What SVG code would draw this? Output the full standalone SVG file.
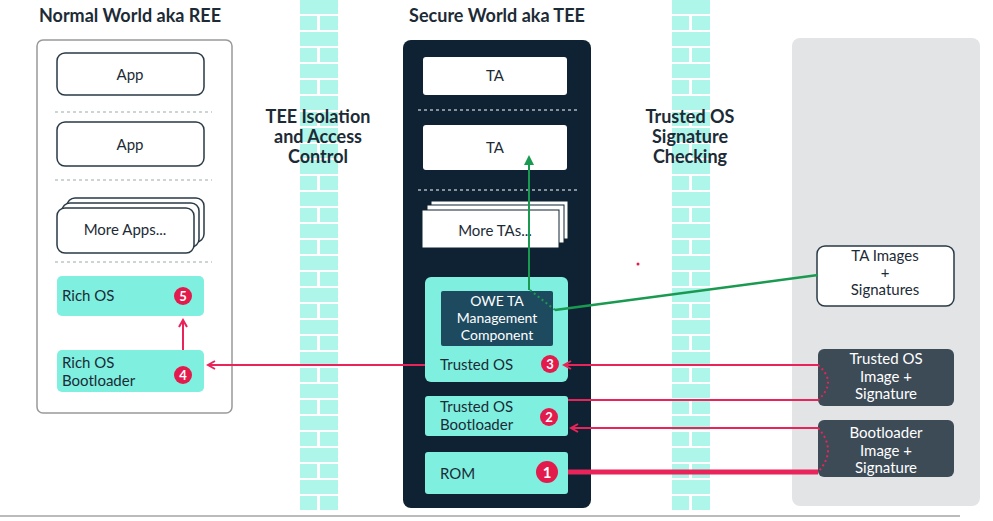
<svg xmlns="http://www.w3.org/2000/svg" width="993" height="521" viewBox="0 0 993 521">
<defs>
<pattern id="brick" x="300" y="0" width="38" height="32" patternUnits="userSpaceOnUse">
<rect x="0" y="0" width="38" height="14" fill="#aef5ea"/>
<rect x="0" y="16" width="17" height="14" fill="#aef5ea"/>
<rect x="20" y="16" width="18" height="14" fill="#aef5ea"/>
</pattern>
<pattern id="brick2" x="672" y="0" width="38" height="32" patternUnits="userSpaceOnUse">
<rect x="0" y="0" width="38" height="14" fill="#aef5ea"/>
<rect x="0" y="16" width="17" height="14" fill="#aef5ea"/>
<rect x="20" y="16" width="18" height="14" fill="#aef5ea"/>
</pattern>
<marker id="ar" viewBox="0 0 10 10" refX="8" refY="5" markerWidth="5" markerHeight="5" orient="auto"><path d="M1 1 L8 5 L1 9" fill="none" stroke="#e8245a" stroke-width="2"/></marker>
<marker id="ag" viewBox="0 0 10 10" refX="8" refY="5" markerWidth="5" markerHeight="5" orient="auto"><path d="M0 0 L10 5 L0 10 z" fill="#1a9a50"/></marker>
</defs>
<style>
text{font-family:"Lato","Liberation Sans",sans-serif;fill:#1c2b36;}
.t{font-size:15px;text-anchor:middle;}
.h{font-size:18px;font-weight:bold;text-anchor:middle;}
.w{fill:#fff;stroke:#2a3a46;stroke-width:1.5;}
.teal{fill:#7ff0e0;}
.lt{fill:#fff;font-size:15px;text-anchor:middle;}
.sep{stroke:#9aa;stroke-dasharray:3 3;stroke-width:1;}
.sepd{stroke:#fff;stroke-dasharray:3 3;stroke-width:1;}
.red{stroke:#e8245a;stroke-width:2;fill:none;}
.badge{fill:#e31b4d;}
.bt{fill:#fff;font-size:13px;font-weight:bold;text-anchor:middle;}
</style>
<rect width="993" height="521" fill="#fff"/>
<rect x="300" y="0" width="38" height="512" fill="url(#brick)"/>
<rect x="672" y="0" width="38" height="512" fill="url(#brick2)"/>
<text x="130" y="22" class="h">Normal World aka REE</text>
<text x="497" y="22" class="h">Secure World aka TEE</text>
<text x="318" y="123" class="h">TEE Isolation</text>
<text x="318" y="143" class="h">and Access</text>
<text x="318" y="163" class="h">Control</text>
<text x="690" y="123" class="h">Trusted OS</text>
<text x="690" y="143" class="h">Signature</text>
<text x="690" y="163" class="h">Checking</text>
<g id="ree">
<rect x="37" y="40" width="195" height="373" rx="6" fill="#fff" stroke="#999" stroke-width="1.5"/>
<line x1="55" y1="112" x2="212" y2="112" class="sep"/>
<line x1="55" y1="180" x2="212" y2="180" class="sep"/>
<line x1="55" y1="262" x2="212" y2="262" class="sep"/>
</g>
<g id="app1"><rect x="57" y="53" width="147" height="42" rx="8" class="w"/><text x="130" y="80" class="t">App</text></g>
<g id="app2"><rect x="57" y="122" width="147" height="44" rx="8" class="w"/><text x="130" y="150" class="t">App</text></g>
<g id="moreapps">
<rect x="67" y="198" width="137" height="44" rx="8" class="w"/>
<rect x="62" y="203" width="137" height="44" rx="8" class="w"/>
<rect x="57" y="208" width="137" height="45" rx="8" class="w"/>
<text x="125" y="235" class="t">More Apps...</text></g>
<g id="richos"><rect x="57" y="276" width="147" height="40" rx="5" class="teal"/><text x="62" y="301" class="t" style="text-anchor:start">Rich OS</text>
<circle cx="183" cy="296" r="9" class="badge"/><text x="183" y="301" class="bt">5</text></g>
<g id="richboot"><rect x="57" y="350" width="147" height="42" rx="5" class="teal"/><text x="62" y="368" class="t" style="text-anchor:start">Rich OS</text><text x="62" y="386" class="t" style="text-anchor:start">Bootloader</text>
<circle cx="183" cy="375" r="9" class="badge"/><text x="183" y="380" class="bt">4</text></g>
<g id="tee">
<rect x="403" y="40" width="188" height="468" rx="8" fill="#0f2233"/>
<line x1="418" y1="110" x2="578" y2="110" class="sepd"/>
<line x1="418" y1="190" x2="578" y2="190" class="sepd"/>
</g>
<g id="ta1"><rect x="423" y="57" width="144" height="38" rx="3" fill="#fff"/><text x="495" y="81" class="t">TA</text></g>
<g id="ta2"><rect x="423" y="125" width="144" height="45" rx="3" fill="#fff"/><text x="495" y="153" class="t">TA</text></g>
<g id="moretas">
<rect x="431" y="201" width="137" height="38" fill="#fff" stroke="#0f2233"/>
<rect x="427" y="205" width="137" height="38" fill="#fff" stroke="#0f2233"/>
<rect x="422" y="210" width="137" height="38" fill="#fff" stroke="#0f2233"/>
<text x="495" y="236" class="t">More TAs...</text></g>
<g id="trustedos"><rect x="425" y="277" width="143" height="105" rx="6" class="teal"/>
<text x="440" y="370" class="t" style="text-anchor:start">Trusted OS</text>
<circle cx="550" cy="364" r="9" class="badge"/><text x="550" y="369" class="bt">3</text></g>
<g id="owe"><rect x="441" y="291" width="112" height="55" rx="2" fill="#1e4a60"/>
<text x="497" y="306" class="lt" style="font-size:14px">OWE TA</text><text x="497" y="323" class="lt" style="font-size:14px">Management</text><text x="497" y="340" class="lt" style="font-size:14px">Component</text></g>
<g id="tosboot"><rect x="425" y="396" width="143" height="40" rx="3" class="teal"/>
<text x="440" y="412" class="t" style="text-anchor:start">Trusted OS</text><text x="440" y="430" class="t" style="text-anchor:start">Bootloader</text>
<circle cx="549" cy="417" r="9" class="badge"/><text x="549" y="422" class="bt">2</text></g>
<g id="rom"><rect x="425" y="452" width="143" height="42" rx="3" class="teal"/>
<text x="440" y="479" class="t" style="text-anchor:start">ROM</text>
<circle cx="547" cy="472" r="11" class="badge"/><text x="547" y="478" class="bt" style="font-size:15px">1</text></g>
<g id="store"><rect x="792" y="38" width="188" height="468" rx="8" fill="#e3e4e6"/></g>
<g id="taimg"><rect x="817" y="246" width="137" height="60" rx="8" class="w"/>
<text x="885" y="261" class="t">TA Images</text><text x="885" y="278" class="t">+</text><text x="885" y="295" class="t">Signatures</text></g>
<g id="tosimg"><rect x="818" y="349" width="136" height="57" rx="6" fill="#3d4b57"/>
<text x="886" y="364" class="lt">Trusted OS</text><text x="886" y="382" class="lt">Image +</text><text x="886" y="399" class="lt">Signature</text></g>
<g id="bootimg"><rect x="818" y="420" width="136" height="57" rx="6" fill="#3d4b57"/>
<text x="886" y="438" class="lt">Bootloader</text><text x="886" y="456" class="lt">Image +</text><text x="886" y="473" class="lt">Signature</text></g>
<g id="connectors">
<line x1="529" y1="290" x2="529" y2="157" stroke="#1a9a50" stroke-width="2" marker-end="url(#ag)"/>
<line x1="555" y1="310" x2="818" y2="275" stroke="#1a9a50" stroke-width="2.5"/>
<line x1="530" y1="290" x2="555" y2="310" stroke="#1a9a50" stroke-width="2" stroke-dasharray="2 3"/>
<line x1="183" y1="350" x2="183" y2="320" class="red" marker-end="url(#ar)"/>
<line x1="425" y1="365" x2="208" y2="365" class="red" marker-end="url(#ar)"/>
<line x1="818" y1="365" x2="564" y2="365" class="red" marker-end="url(#ar)"/>
<line x1="568" y1="400" x2="818" y2="400" class="red"/>
<line x1="818" y1="428" x2="571" y2="428" class="red" marker-end="url(#ar)"/>
<line x1="568" y1="472" x2="818" y2="472" stroke="#e8245a" stroke-width="5"/>
<path d="M818 365 Q838 382 818 400" class="red" stroke-dasharray="2 3"/>
<path d="M818 428 Q838 450 818 472" class="red" stroke-dasharray="2 3"/>
</g>
<circle cx="638" cy="264" r="1.5" fill="#e31b4d"/>
<line x1="0" y1="516" x2="960" y2="516" stroke="#bbb" stroke-width="2"/>
</svg>
